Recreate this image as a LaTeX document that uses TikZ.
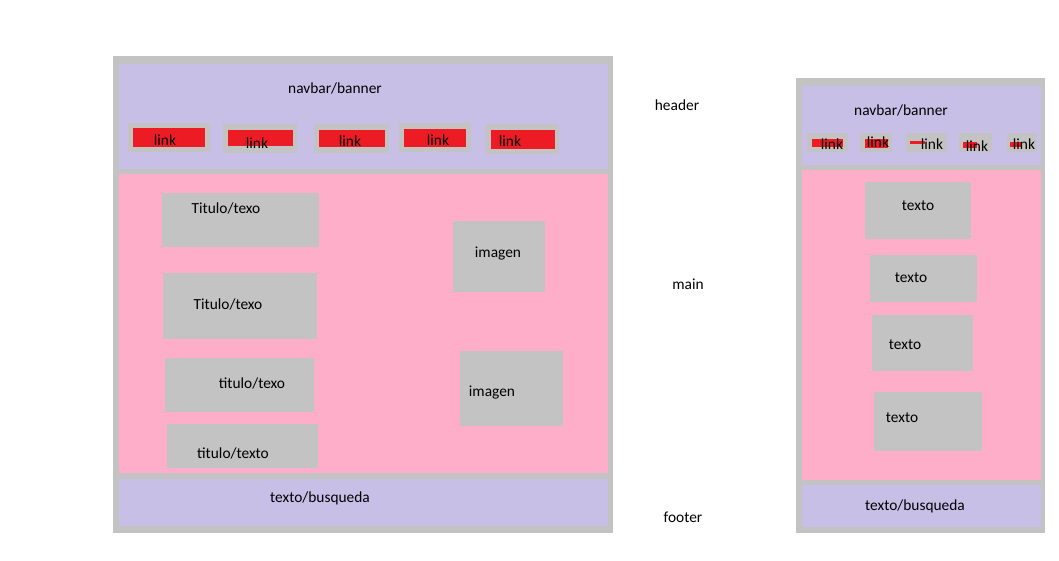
\documentclass[tikz,border=0pt]{standalone}
\usepackage{fontspec}
\setmainfont{Carlito}
\usepackage{tikz}
\definecolor{marco}{HTML}{C3C3C3}
\definecolor{lila}{HTML}{C8BFE7}
\definecolor{rosa}{HTML}{FFAEC9}
\definecolor{rojo}{HTML}{ED1C24}
\tikzset{lbl/.style={font=\fontsize{15.4}{18}\selectfont,inner sep=0pt,text=black,yshift=-1pt}}
\begin{document}
\begin{tikzpicture}[x=1pt,y=-1pt,line cap=round,line join=round]
      \useasboundingbox[fill=white] (0,0) rectangle (1059,560);
      % version escritorio
      \fill[marco] (113,56) rectangle (613,533);
      \fill[lila] (119,64) rectangle (608,169);
      \fill[rosa] (119,174) rectangle (608,473);
      \fill[lila] (119,479) rectangle (608,526);
      \node[lbl] (navL) at (335,87) {navbar/banner};
      \foreach \a/\b/\c/\d/\e/\f/\g/\h/\tx/\ty/\n in {128/123/210/152/133/128/205/147/165/139/1,223/124/297/153/228/130/293/146/257/142/2,314/124/389/153/319/130/385/147/350/140/3,399/123/471/152/404/129/466/147/438/139/4,486/124/559/154/491/130/555/149/510/140/5}
      {
      \fill[marco] (\a,\b) rectangle (\c,\d);
      \fill[rojo] (\e,\f) rectangle (\g,\h);
      \node[lbl] (linkL\n) at (\tx,\ty) {link};
      }
      \foreach \a/\b/\c/\d/\tx/\ty/\txt/\n in {162/193/319/247/226/207/Titulo\slash texo/1,163/273/317/339/228/303/Titulo\slash texo/2,165/358/314/412/252/382/titulo\slash texo/3,167/424/318/468/233/452/titulo\slash texto/4}
      {
      \fill[marco] (\a,\b) rectangle (\c,\d);
      \node[lbl] (titL\n) at (\tx,\ty) {\txt};
      }
      \fill[marco] (453,221) rectangle (545,292);
      \node[lbl] (imgL1) at (498,253) {imagen};
      \fill[marco] (460,351) rectangle (563,426);
      \node[lbl] (imgL2) at (492,392) {imagen};
      \node[lbl] (footL) at (320,497) {texto/busqueda};
      % etiquetas
      \node[lbl] (header) at (677,104) {header};
      \node[lbl] (main) at (688,283) {main};
      \node[lbl] (footer) at (683,516) {footer};
      % version movil
      \fill[marco] (796,78) rectangle (1045,533);
      \fill[lila] (802,86) rectangle (1041,165);
      \fill[rosa] (802,170) rectangle (1041,480);
      \fill[lila] (802,485) rectangle (1041,527);
      \node[lbl] (navR) at (901,109) {navbar/banner};
      \foreach \a/\b/\c/\d/\e/\f/\g/\h/\tx/\ty/\n in {807/133/848/152/812/139/843/147/832/143/1,860/133/892/152/865/139/888/148/878/141/2,906/133/947/152/910/141/925/144/932/143/3,959/133/992/152/963/142/977/148/977/145/4,1007/133/1037/152/1010/142/1022/147/1024/143/5}
      {
      \fill[marco] (\a,\b) rectangle (\c,\d);
      \fill[rojo] (\e,\f) rectangle (\g,\h);
      \node[lbl] (linkR\n) at (\tx,\ty) {link};
      }
      \foreach \a/\b/\c/\d/\tx/\ty/\n in {865/182/971/239/918/205/1,870/255/977/302/911/277/2,872/315/973/371/905/344/3,874/392/982/451/902/417/4}
      {
      \fill[marco] (\a,\b) rectangle (\c,\d);
      \node[lbl] (texR\n) at (\tx,\ty) {texto};
      }
      \node[lbl] (footR) at (915,505) {texto/busqueda};
\end{tikzpicture}
\end{document}
